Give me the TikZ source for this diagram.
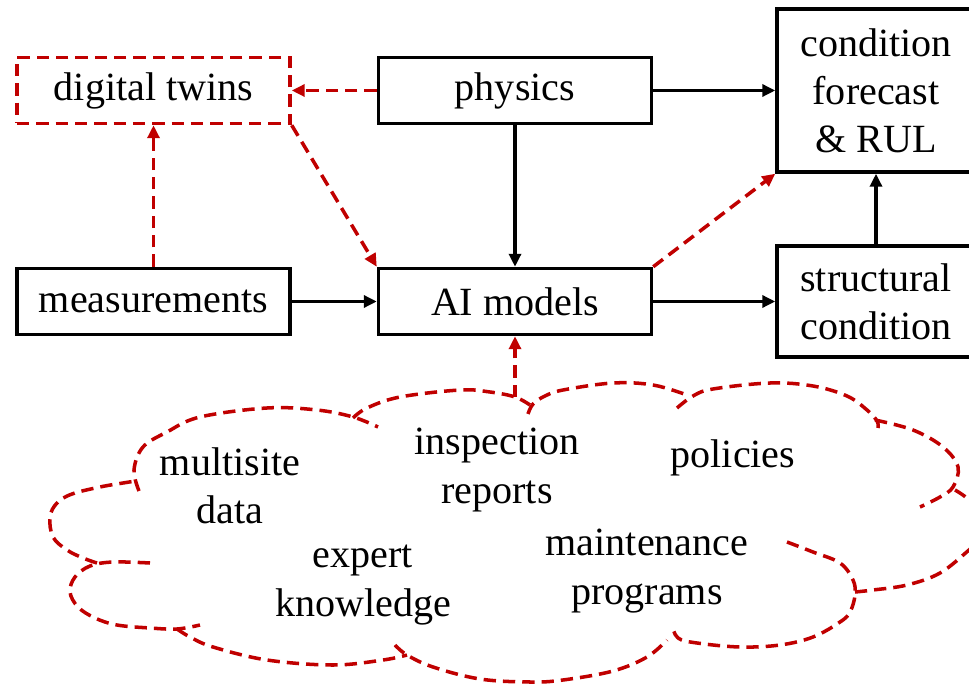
\documentclass[tikz,border=0pt]{standalone}
\usepackage{fontspec}
\setmainfont{Liberation Serif}
\usepackage{tikz}
\usetikzlibrary{arrows.meta}

\definecolor{darkred}{RGB}{192,0,0}

\tikzset{
    box/.style={draw, line width=2pt, minimum width=5.46cm, minimum height=1.32cm, inner sep=0pt},
    sidebox/.style={box, minimum width=3.96cm, align=center},
    redbox/.style={box, draw=darkred, dash pattern=on 7pt off 4pt},
    arr/.style={line width=2pt, -{Triangle[length=0.26cm, width=0.24cm]}},
    redarr/.style={arr, darkred, dash pattern=on 7pt off 4pt},
    lobe/.style={line width=2pt, darkred, dash pattern=on 7pt off 4pt}
}

\begin{document}
\begin{tikzpicture}[x=0.02cm, y=-0.02cm, font=\fontsize{22.8}{27.4}\selectfont]
    \useasboundingbox (0,0) rectangle (969,685);
    \clip (0,0) rectangle (969,685);

    % boxes
    \node[redbox] (twins) at (153.5,90.5) {digital twins};
    \node[box] (physics) at (515,90.5) {physics};
    \node[sidebox, minimum height=3.26cm] (forecast) at (876,90.5) {condition\\forecast\\\& RUL};
    \node[box] (measure) at (153.5,301.5) {measurements};
    \node[box] (ai) at (515,301.5) {AI models};
    \node[sidebox, minimum height=2.22cm] (structural) at (876,301.5) {structural\\condition};

    % black arrows
    \draw[arr] (physics) -- (forecast);
    \draw[arr] (physics) -- (ai);
    \draw[arr] (measure) -- (ai);
    \draw[arr] (ai) -- (structural);
    \draw[arr] (structural) -- (forecast);

    % red arrows
    \draw[redarr] (physics) -- (twins);
    \draw[redarr] (measure) -- (twins);
    \draw[redarr] (twins.south east) -- (ai.north west);
    \draw[redarr] (ai.north east) -- (forecast.south west);
    \coordinate (cloudtop) at (515,397);
    \draw[redarr] (cloudtop) -- (ai);

    % cloud
    \draw[lobe] plot[smooth, tension=0.6] coordinates {(97,563) (83,558) (67,550) (53,537) (50,517) (57,503) (72,494) (100,487) (123,483) (136,481)};
    \draw[lobe] plot[smooth, tension=0.6] coordinates {(139,491) (134,470) (143,447) (167,432) (200,417) (267,408) (317,410) (353,417) (378,427)};
    \draw[lobe] plot[smooth, tension=0.6] coordinates {(353,418) (367,408) (400,397) (460,390) (490,392) (515,397) (530,405)};
    \draw[lobe] plot[smooth, tension=0.6] coordinates {(528,414) (533,404) (545,396) (563,390) (613,383) (653,385) (687,395)};
    \draw[lobe] plot[smooth, tension=0.6] coordinates {(677,408) (693,396) (713,389) (770,383) (813,386) (847,396) (867,410) (877,421) (878,428)};
    \draw[lobe] plot[smooth, tension=0.6] coordinates {(875,420) (913,430) (943,447) (958,467) (953,487) (940,497) (920,507)};
    \draw[lobe] plot[smooth, tension=0.6] coordinates {(955,490) (969,500) (985,520) (985,535) (969,550) (940,573) (907,585) (873,590) (855,592)};
    \draw[lobe] plot[smooth, tension=0.6] coordinates {(787,542) (813,552) (840,563) (853,580) (855,595) (850,612) (840,622) (813,637) (780,645) (740,647) (697,643) (678,638) (672,625)};
    \draw[lobe] plot[smooth, tension=0.6] coordinates {(395,645) (407,655) (433,667) (480,679) (530,682) (563,680) (613,671) (647,657) (667,640)};
    \draw[lobe] plot[smooth, tension=0.6] coordinates {(177,629) (190,637) (213,647) (267,660) (333,665) (383,660) (407,655)};
    \draw[lobe] plot[smooth, tension=0.6] coordinates {(150,563) (113,562) (90,566) (75,577) (70,592) (78,607) (95,618) (117,625) (150,628) (177,629) (200,625)};

    % cloud texts
    \node[align=center] (multisite) at (230,486) {multisite\\data};
    \node[align=center] (inspection) at (497,470) {inspection\\reports};
    \node (policies) at (733,458) {policies};
    \node[align=center] (expert) at (363,585) {expert\\knowledge};
    \node[align=center] (maintenance) at (647,571) {maintenance\\programs};
\end{tikzpicture}
\end{document}
